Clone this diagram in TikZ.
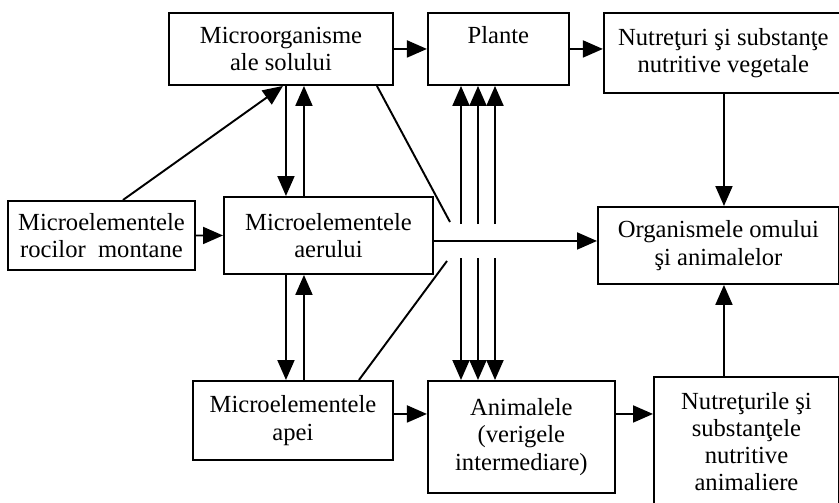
\documentclass[tikz,border=0pt]{standalone}
\usepackage{fontspec}
\setmainfont{Liberation Serif}
\usetikzlibrary{positioning}
\usetikzlibrary{arrows.meta}

\begin{document}
\begin{tikzpicture}[
  box/.style={
    draw,
    line width=1.1pt,
    align=center,
    inner sep=2pt,
    anchor=north west,
    font=\fontsize{14}{15.5}\selectfont
  },
  arrow/.style={-{Triangle[length=4mm, width=3.4mm]}, line width=1.1pt},
  link/.style={line width=1.1pt}
]
\useasboundingbox (0,0) rectangle (16.78,10.04);

% top row
\node[box, minimum width=4.48cm, minimum height=1.44cm] (mo) at (3.36,9.80) {Microorganisme \\ ale solului};
\node[box, minimum width=2.82cm, minimum height=1.44cm, right=0.66cm of mo.north east, anchor=north west] (pl) {Plante \\ \mbox{}};
\node[box, minimum width=4.78cm, minimum height=1.60cm, right=0.66cm of pl.north east, anchor=north west] (nv) {Nutreţuri şi substanţe \\ nutritive vegetale};

% middle row
\node[box, minimum width=3.74cm, minimum height=1.38cm] (mr) at (0.14,6.04) {Microelementele \\ rocilor\ \ montane};
\node[box, minimum width=4.18cm, minimum height=1.54cm] (ma) at (4.46,6.12) {Microelementele \\ aerului};
\node[box, minimum width=4.82cm, minimum height=1.54cm] (oa) at (11.94,5.92) {Organismele omului \\ şi animalelor};

% bottom row
\node[box, minimum width=4.00cm, minimum height=1.58cm] (mw) at (3.84,2.44) {Microelementele \\ apei};
\node[box, minimum width=3.74cm, minimum height=2.24cm, right=0.66cm of mw.north east, anchor=north west] (an) {Animalele \\ (verigele \\ intermediare)};
\node[box, minimum width=3.70cm, minimum height=2.58cm] (na) at (13.06,2.52) {Nutreţurile şi \\ substanţele \\ nutritive \\ animaliere};

% helper points
\coordinate (vl) at ([xshift=1mm]mo.south);
\coordinate (vr) at ([xshift=4.6mm]mo.south);
\coordinate (vo) at ([xshift=1.1mm]oa.south);
\coordinate (ha) at ([yshift=-1.1mm]ma.east);
\coordinate (hb) at ([yshift=1.3mm]mw.east);
\coordinate (j1) at (9.00,5.60);
\coordinate (j2) at (8.94,4.82);

\draw[arrow] (mo) -- (pl);
\draw[arrow] (pl) -- (pl -| nv.west);
\draw[arrow] ([xshift=4.3mm]mr.north) -- ([xshift=0.4mm]mo.south);
\draw[arrow] (mr) -- (ma);
\draw[arrow] (vl) -- (vl |- ma.north);
\draw[arrow] (vr |- ma.north) -- (vr);
\draw[arrow] (vl |- ma.south) -- (vl |- mw.north);
\draw[arrow] (vr |- mw.north) -- (vr |- ma.south);
\draw[arrow] (ha) -- (ha -| oa.west);
\draw[arrow] (vo |- nv.south) -- (vo |- oa.north);
\draw[arrow] (vo |- na.north) -- (vo);
\draw[arrow] (hb) -- (hb -| an.west);
\draw[arrow] (hb -| an.east) -- (hb -| na.west);

\draw[link] ([xshift=-3.4mm]mo.south east) -- (j1);
\draw[link] ([xshift=-7mm]mw.north east) -- (j2);

\foreach \x [count=\i] in {9.22,9.56,9.90} {
  \coordinate (u\i) at (\x,5.56);
  \coordinate (d\i) at (\x,4.88);
  \draw[arrow] (u\i) -- (u\i |- pl.south);
  \draw[arrow] (d\i) -- (d\i |- an.north);
}
\end{tikzpicture}
\end{document}
